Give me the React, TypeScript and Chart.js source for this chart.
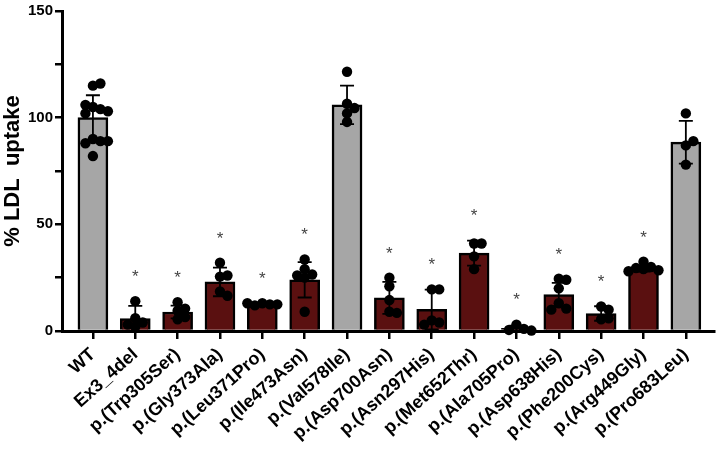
import { useEffect, useRef } from "react";
import { Chart, registerables } from "chart.js";
Chart.register(...registerables);

const categories = [
  "WT", "Ex3_4del", "p.(Trp305Ser)", "p.(Gly373Ala)", "p.(Leu371Pro)",
  "p.(Ile473Asn)", "p.(Val578Ile)", "p.(Asp700Asn)", "p.(Asn297His)",
  "p.(Met652Thr)", "p.(Ala705Pro)", "p.(Asp638His)", "p.(Phe200Cys)",
  "p.(Arg449Gly)", "p.(Pro683Leu)",
];
const means = [100, 5.8, 8.9, 23, 12.4, 24, 106, 15.5, 10.1, 36.5, 1.2, 17.1, 8.2, 29.3, 88.5];
const sds = [10.5, 6, 3, 6.7, 0.5, 8.3, 9, 7.5, 9.3, 5.9, 1.3, 5.5, 3.4, 1.5, 10];
const significant = [false, true, true, true, true, true, false, true, true, true, true, true, true, true, false];

const pWT = [115, 116, 105, 104, 106, 103, 102, 90, 89, 88, 89, 82];
const pEx3 = [14, 6, 4, 3, 2];
const pTrp = [13.5, 10.5, 9.5, 6.5, 5.5];
const pGly = [32, 25.5, 26, 18.5, 16.5];
const pLeu = [13, 12.5, 12, 12.5, 13];
const pIle = [33.5, 29, 26.5, 26, 25, 9];
const pVal = [121.5, 106.5, 104.5, 102, 98];
const pAsp700 = [25, 21, 14.5, 9, 8.5];
const pAsn297 = [19.5, 19.5, 5, 4, 3];
const pMet = [41, 41, 35, 29];
const pAla = [3, 1, 0.5, 0.2];
const pAsp638 = [24.5, 24, 20, 13, 10.5, 10];
const pPhe = [11.5, 10, 5.5, 6];
const pArg = [32.5, 30, 29.5, 29, 28.5, 28];
const pPro = [102, 87, 89, 78];
const points = [pWT, pEx3, pTrp, pGly, pLeu, pIle, pVal, pAsp700, pAsn297, pMet, pAla, pAsp638, pPhe, pArg, pPro];

const yLabeledTicks = [0, 50, 100, 150];

const FONT = "'Liberation Sans', Arial, Helvetica, sans-serif";
const RED = "#5a1010";
const GRAY = "#a6a6a6";
const PX_PER_Y = 322 / 150;
const PX_PER_CAT = 42.43;

function swarm(vals: number[]): number[] {
  const placed: { dx: number; y: number }[] = [];
  const out: number[] = [];
  const minDist = 7;
  const step = 7.5;
  for (const v of vals) {
    const y = v * PX_PER_Y;
    let chosen = 0;
    for (let k = 0; k < 9; k++) {
      const dx = k === 0 ? 0 : (k % 2 ? 1 : -1) * Math.ceil(k / 2) * step;
      if (placed.every((p) => Math.hypot(p.dx - dx, p.y - y) >= minDist)) {
        chosen = dx;
        break;
      }
    }
    placed.push({ dx: chosen, y });
    out.push(chosen / PX_PER_CAT);
  }
  return out;
}

const errorPlugin = {
  id: "errorBars",
  afterDatasetDraw(chart: any, args: any) {
    if (args.meta.type !== "bar") return;
    const { ctx, scales } = chart;
    const xs = scales.x, ys = scales.y;
    ctx.save();
    ctx.strokeStyle = "#000";
    ctx.lineWidth = 1.8;
    means.forEach((m, i) => {
      const x = xs.getPixelForValue(i);
      const yt = ys.getPixelForValue(m + sds[i]);
      const yb = ys.getPixelForValue(Math.max(m - sds[i], 0));
      ctx.beginPath();
      ctx.moveTo(x, yt);
      ctx.lineTo(x, yb);
      ctx.moveTo(x - 7, yt);
      ctx.lineTo(x + 7, yt);
      ctx.moveTo(x - 7, yb);
      ctx.lineTo(x + 7, yb);
      ctx.stroke();
    });
    ctx.restore();
  },
  afterDatasetsDraw(chart: any) {
    const { ctx, scales } = chart;
    const xs = scales.x, ys = scales.y;
    ctx.save();
    ctx.fillStyle = "#444";
    ctx.font = `17px ${FONT}`;
    ctx.textAlign = "center";
    ctx.textBaseline = "alphabetic";
    means.forEach((m, i) => {
      if (!significant[i]) return;
      const top = Math.max(m + sds[i], ...points[i]) + 13.5;
      const x = xs.getPixelForValue(i);
      const y = ys.getPixelForValue(top);
      ctx.fillText("*", x, y + 0.57 * 17);
    });
    ctx.restore();
  },
};

export default function App() {
  const ref = useRef<HTMLCanvasElement>(null);
  useEffect(() => {
    if (!ref.current) return;
    const scatterData: { x: number; y: number }[] = [];
    points.forEach((vals, i) => {
      const offs = swarm(vals);
      vals.forEach((v, j) => scatterData.push({ x: i + offs[j], y: v }));
    });
    const chart = new Chart(ref.current, {
      type: "bar",
      data: {
        datasets: [
          {
            type: "scatter",
            data: scatterData,
            backgroundColor: "#000",
            borderWidth: 0,
            pointRadius: 5.2,
            order: 1,
            clip: false,
          } as any,
          {
            type: "bar",
            data: means.map((m, i) => ({ x: i, y: m })),
            backgroundColor: means.map((_, i) => (significant[i] ? RED : GRAY)),
            borderColor: "#000",
            borderWidth: 2.5,
            barThickness: 30,
            order: 2,
          } as any,
        ],
      },
      options: {
        animation: false,
        responsive: false,
        layout: { padding: { top: 9, right: 4, left: 0, bottom: 0 } },
        plugins: { legend: { display: false }, tooltip: { enabled: false } },
        scales: {
          x: {
            type: "linear",
            offset: false,
            min: -0.73,
            max: 14.66,
            afterBuildTicks: (s: any) => {
              s.ticks = categories.map((_, i) => ({ value: i }));
            },
            afterFit: (s: any) => {
              s.height = 124;
              s.paddingLeft = 0;
              s.paddingRight = 0;
            },
            ticks: {
              autoSkip: false,
              minRotation: 42,
              maxRotation: 42,
              padding: 5,
              color: "#000",
              font: { family: FONT, size: 18, weight: "bold" },
              callback: (v: any) => categories[v] ?? "",
            },
            grid: {
              display: true,
              offset: false,
              drawOnChartArea: false,
              drawTicks: true,
              tickLength: 8,
              color: "#000",
              lineWidth: 2.5,
            },
            border: { display: true, color: "#000", width: 3 },
          },
          y: {
            type: "linear",
            min: 0,
            max: 150,
            afterFit: (s: any) => {
              s.width = 62;
            },
            ticks: {
              stepSize: 25,
              padding: 2,
              color: "#000",
              font: { family: FONT, size: 15, weight: "bold" },
              callback: (v: any) => (yLabeledTicks.includes(v) ? String(v) : ""),
            },
            grid: {
              display: true,
              drawOnChartArea: false,
              drawTicks: true,
              tickLength: 7,
              color: "#000",
              lineWidth: 2.5,
            },
            border: { display: true, color: "#000", width: 3 },
            title: {
              display: true,
              text: "% LDL  uptake",
              color: "#000",
              font: { family: FONT, size: 22, weight: "bold" },
              padding: { top: 0, bottom: 0 },
            },
          },
        },
      },
      plugins: [errorPlugin],
    });
    return () => chart.destroy();
  }, []);
  return (
    <div style={{ position: "fixed", left: 0, top: 0, width: 719, height: 455, background: "#fff" }}>
      <canvas ref={ref} width={719} height={455} />
    </div>
  );
}
